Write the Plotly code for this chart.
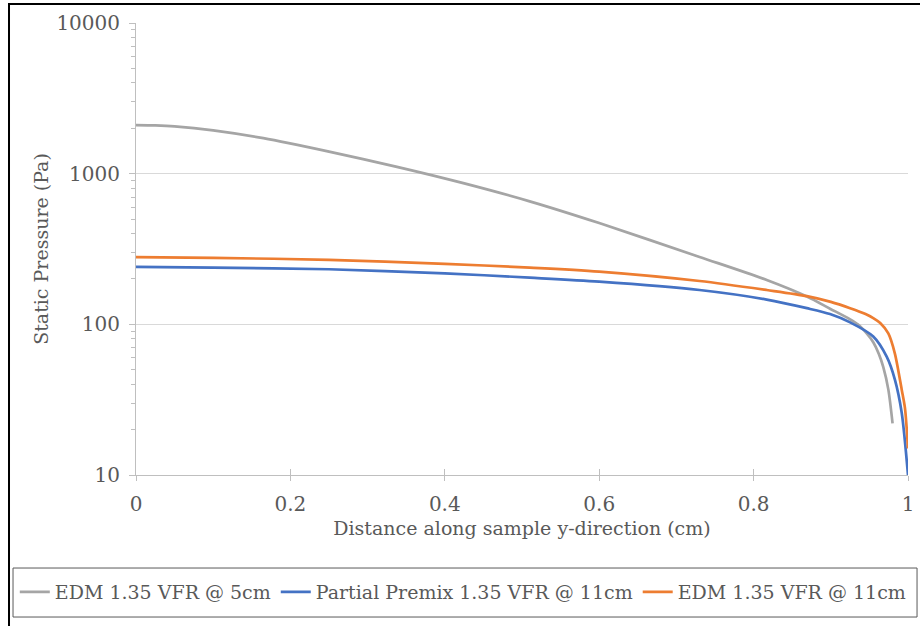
import plotly.graph_objects as go

# Static pressure profiles across the sample (distance in cm, pressure in Pa)
edm5_x = [0, 0.025, 0.05, 0.1, 0.165, 0.25, 0.338, 0.424, 0.51, 0.6, 0.73,
          0.817, 0.869, 0.899, 0.925, 0.935, 0.9465, 0.955, 0.962, 0.968,
          0.9745, 0.98]
edm5_p = [2100, 2090, 2060, 1940, 1720, 1400, 1110, 865, 655, 470, 280,
          197, 153, 127, 108, 100, 87, 76, 64, 52, 37, 22]

premix11_x = [0, 0.1, 0.25, 0.4, 0.51, 0.6, 0.73, 0.817, 0.869, 0.899,
              0.925, 0.955, 0.9724, 0.983, 0.9918, 1.0]
premix11_p = [241, 238, 232, 218, 204, 192, 169, 146, 128, 117,
              103, 83, 61, 43, 26, 10]

edm11_x = [0, 0.1, 0.25, 0.4, 0.51, 0.6, 0.73, 0.817, 0.869, 0.9, 0.925,
           0.945, 0.955, 0.964, 0.9745, 0.983, 0.9918, 0.996, 1.0]
edm11_p = [279, 276, 268, 252, 238, 224, 194, 169, 154, 141, 128,
           117, 110, 102, 87, 64, 37, 28, 15]

x_ticks = [0, 0.2, 0.4, 0.6, 0.8, 1.0]
x_tick_text = ["0", "0.2", "0.4", "0.6", "0.8", "1"]
y_ticks = [10, 100, 1000, 10000]
y_tick_text = ["10", "100", "1000", "10000"]

series = [
    ("EDM 1.35 VFR @ 5cm", edm5_x, edm5_p, "#A5A5A5"),
    ("Partial Premix 1.35 VFR @ 11cm", premix11_x, premix11_p, "#4472C4"),
    ("EDM 1.35 VFR @ 11cm", edm11_x, edm11_p, "#ED7D31"),
]

FONT = "DejaVu Serif"
TXT = "#595959"
AXIS = "#BFBFBF"

fig = go.Figure()
for name, xs, ps, color in series:
    fig.add_trace(go.Scatter(
        x=xs, y=ps, name=name, mode="lines",
        line=dict(color=color, width=2.7, shape="spline", smoothing=0.8),
    ))

fig.update_layout(
    width=920, height=626,
    margin=dict(l=136, r=12, t=23, b=151),
    paper_bgcolor="white", plot_bgcolor="white",
    font=dict(family=FONT, color=TXT, size=19),
    showlegend=True,
    legend=dict(
        orientation="h", x=-0.157, y=-0.259, xanchor="left", yanchor="middle",
        font=dict(family=FONT, size=19, color=TXT),
        bgcolor="rgba(0,0,0,0)", borderwidth=0,
        itemwidth=30, tracegroupgap=0,
    ),
    xaxis=dict(
        range=[0, 1], tickvals=x_ticks, ticktext=x_tick_text,
        showgrid=False, zeroline=False, automargin=False,
        showline=True, linecolor=AXIS, linewidth=1,
        ticks="outside", ticklen=5, tickcolor=AXIS,
        ticklabelstandoff=6,
        tickfont=dict(size=20, color=TXT),
        title=dict(text="Distance along sample y-direction (cm)",
                   font=dict(size=19, color=TXT), standoff=6),
    ),
    xaxis2=dict(
        overlaying="x", matches="x", range=[0, 1], tickvals=x_ticks,
        showticklabels=False, showgrid=False, zeroline=False,
        automargin=False,
        ticks="inside", ticklen=6, tickcolor=AXIS, side="bottom",
    ),
    yaxis=dict(
        type="log", range=[1, 4], tickvals=y_ticks, ticktext=y_tick_text,
        showgrid=True, gridcolor="#D9D9D9", gridwidth=1,
        zeroline=False, showline=True, linecolor=AXIS, linewidth=1,
        automargin=False,
        ticks="outside", ticklen=6, tickcolor=AXIS,
        minor=dict(ticks="outside", ticklen=4, tickcolor=AXIS,
                   dtick="D1", showgrid=False),
        ticklabelstandoff=5,
        tickfont=dict(size=20, color=TXT),
        title=dict(text="Static Pressure (Pa)",
                   font=dict(size=19, color=TXT), standoff=2),
    ),
)

# invisible trace to activate the secondary x axis carrying inside ticks
fig.add_trace(go.Scatter(x=[0, 1], y=[10, 10], xaxis="x2", mode="lines",
                         line=dict(width=0), showlegend=False,
                         hoverinfo="skip"))

# outer chart frame and legend box
fig.add_shape(type="rect", xref="paper", yref="paper",
              x0=-0.1645, x1=1.2, y0=-0.5, y1=1.042,
              line=dict(color="black", width=2), layer="below")
fig.add_shape(type="rect", xref="paper", yref="paper",
              x0=-0.1593, x1=1.0117, y0=-0.3142, y1=-0.2058,
              line=dict(color="#595959", width=1), layer="below")

fig.write_html("out.html")
